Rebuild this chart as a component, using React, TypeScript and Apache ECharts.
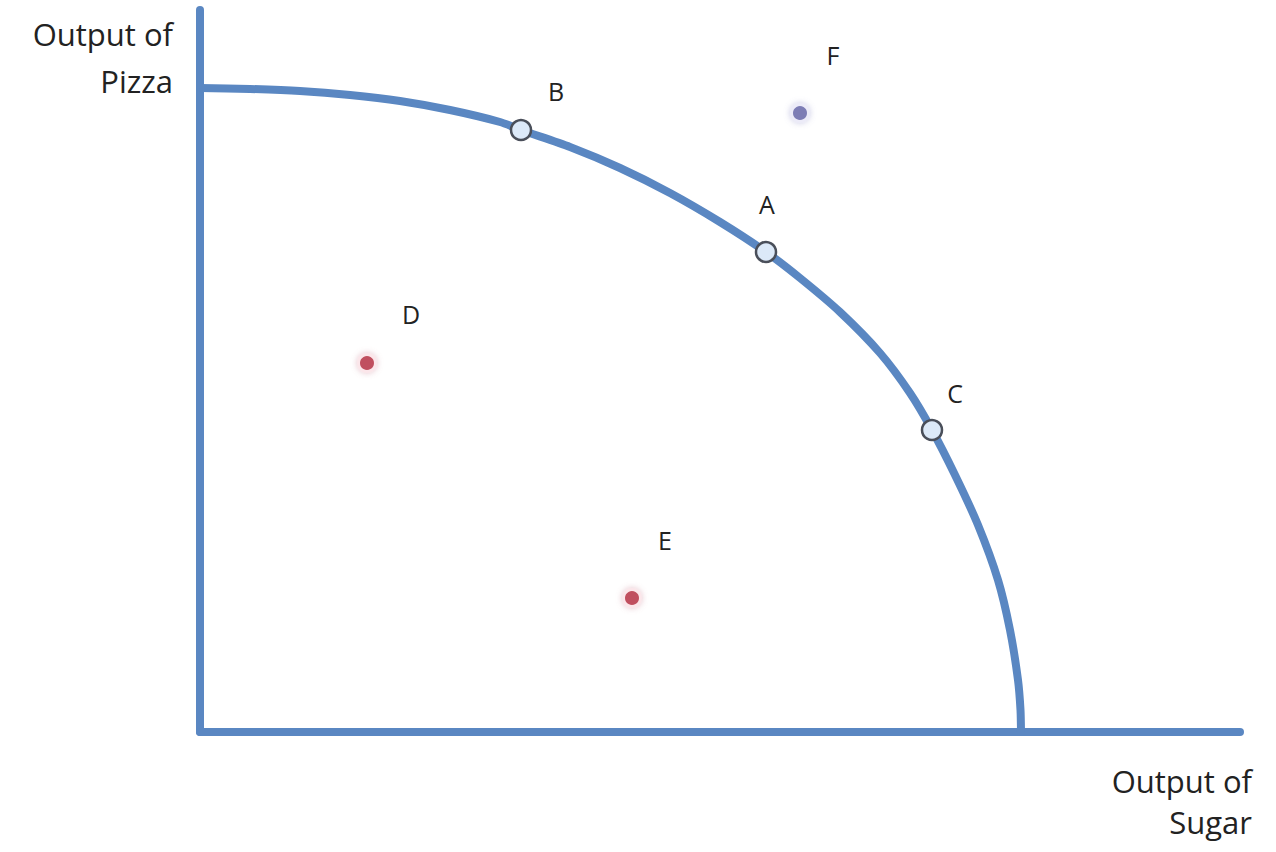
import React, { useEffect, useRef } from "react";
import * as echarts from "echarts";

// Production possibility frontier (x: Output of Sugar, y: Output of Pizza)
const frontierX = [0, 5, 10, 15, 20, 25, 30, 32.1, 37, 42, 47, 52, 56.6, 60, 64, 68, 71, 73.2, 75.5, 77.8, 79.8, 81.0, 81.8, 82.05, 82.1];
const frontierY = [64.4, 64.3, 64.1, 63.7, 63.1, 62.2, 61.0, 60.2, 58.5, 56.4, 53.9, 51.0, 48.0, 45.4, 42.0, 37.9, 33.9, 30.2, 25.7, 20.7, 15.2, 10.2, 5.2, 2.2, 0];

const frontierPoints = ["B", "A", "C"];
const frontierPX = [32.1, 56.6, 73.2];
const frontierPY = [60.2, 48.0, 30.2];

const insidePoints = ["D", "E"];
const insidePX = [16.7, 43.2];
const insidePY = [36.9, 13.4];

const outsidePoints = ["F"];
const outsidePX = [60.0];
const outsidePY = [61.9];

const labelOffsets: Record<string, number[]> = {
  A: [1, -48],
  B: [35, -39],
  C: [23, -37],
  D: [44, -49],
  E: [33, -58],
  F: [33, -58],
};

const yTitle = ["Output of", "Pizza"];
const xTitle = ["Output of", "Sugar"];

const BLUE = "#5a87c2";
const FONT = "'Open Sans', Lato, sans-serif";

export default function App() {
  const ref = useRef<HTMLDivElement>(null);
  useEffect(() => {
    if (!ref.current) return;
    const chart = echarts.init(ref.current, null, { renderer: "svg" });
    const lbl = (name: string) => ({
      show: true,
      position: "inside",
      offset: labelOffsets[name],
      formatter: name,
      fontSize: 25,
      fontFamily: FONT,
      color: "#222",
    });
    const mk = (names: string[], xs: number[], ys: number[]) =>
      names.map((n, i) => ({ value: [xs[i], ys[i]], label: lbl(n) }));
    const title = (text: string, x: number, y: number) => ({
      type: "text",
      x,
      y,
      style: {
        text,
        font: `31px ${FONT}`,
        fill: "#222",
        textAlign: "right",
        align: "right",
        textVerticalAlign: "middle",
        verticalAlign: "middle",
      },
    });

    chart.setOption({
      animation: false,
      backgroundColor: "#ffffff",
      grid: { left: 200, right: 36, top: 10, bottom: 120 },
      xAxis: {
        type: "value",
        min: 0,
        max: 104,
        axisLine: { show: true, lineStyle: { color: BLUE, width: 8 } },
        axisTick: { show: false },
        axisLabel: { show: false },
        splitLine: { show: false },
      },
      yAxis: {
        type: "value",
        min: 0,
        max: 72.2,
        axisLine: { show: true, lineStyle: { color: BLUE, width: 8 } },
        axisTick: { show: false },
        axisLabel: { show: false },
        splitLine: { show: false },
      },
      graphic: [
        title(yTitle[0], 173, 34),
        title(yTitle[1], 173, 81),
        title(xTitle[0], 1252, 781),
        title(xTitle[1], 1252, 822),
      ],
      series: [
        {
          type: "line",
          data: frontierX.map((x, i) => [x, frontierY[i]]),
          smooth: 0.25,
          showSymbol: false,
          symbol: "none",
          lineStyle: { color: BLUE, width: 8 },
          z: 2,
        },
        {
          type: "scatter",
          data: mk(frontierPoints, frontierPX, frontierPY),
          symbol: "circle",
          symbolSize: 20,
          itemStyle: { color: "#dce9f8", borderColor: "#4a4f5a", borderWidth: 2.5, opacity: 1 },
          z: 3,
        },
        {
          type: "scatter",
          data: mk(insidePoints, insidePX, insidePY),
          symbol: "circle",
          symbolSize: 17,
          itemStyle: { color: "#c0505f", borderColor: "#fbe6ea", borderWidth: 3, shadowBlur: 6, shadowColor: "rgba(200,120,140,0.45)", opacity: 1 },
          z: 3,
        },
        {
          type: "scatter",
          data: mk(outsidePoints, outsidePX, outsidePY),
          symbol: "circle",
          symbolSize: 17,
          itemStyle: { color: "#7d7db5", borderColor: "#ecebf8", borderWidth: 3, shadowBlur: 6, shadowColor: "rgba(140,140,200,0.45)", opacity: 1 },
          z: 3,
        },
      ],
    });
    return () => chart.dispose();
  }, []);
  return (
    <div
      ref={ref}
      style={{ position: "fixed", left: 0, top: 0, width: 1276, height: 852, background: "#fff" }}
    />
  );
}
